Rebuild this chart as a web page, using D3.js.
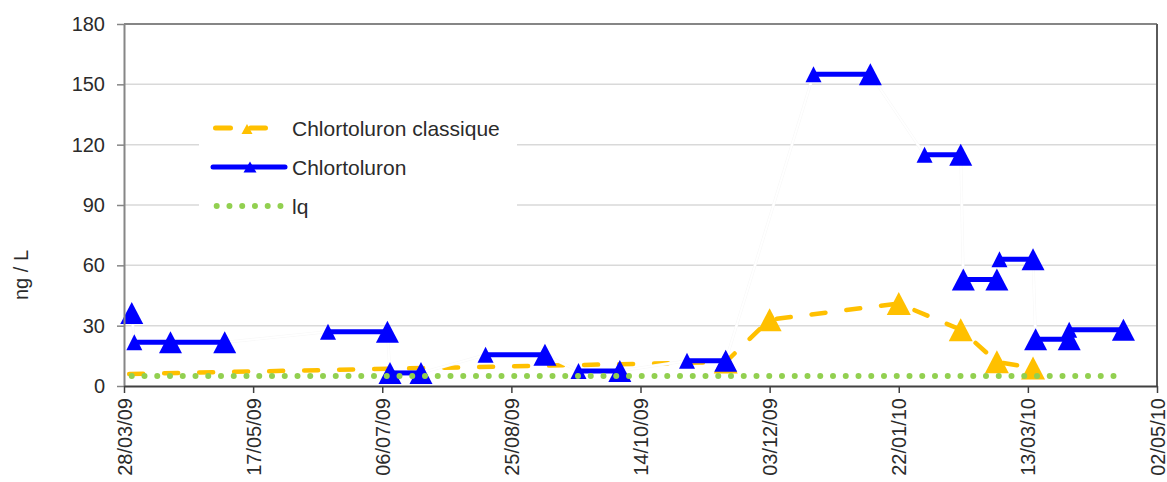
<!DOCTYPE html>
<html><head><meta charset="utf-8">
<script src="https://cdn.jsdelivr.net/npm/d3@7"></script>
<style>
html,body{margin:0;padding:0;background:#fff;}
svg{display:block;font-family:"Liberation Sans",Arial,sans-serif;}
</style></head><body>
<svg id="chart" width="1167" height="482"></svg>
<script>
// ---------- data ----------
const xTickLabels = ["28/03/09","17/05/09","06/07/09","25/08/09","14/10/09","03/12/09","22/01/10","13/03/10","02/05/10"];
const yTickValues = [0,30,60,90,120,150,180];
const seriesNames = ["Chlortoluron classique","Chlortoluron","lq"];

// Chlortoluron classique (spot samples)
const classiqueDates  = ["30/03/09","16/11/09","03/12/09","22/01/10","15/02/10","01/03/10","15/03/10"];
const classiqueValues = [6, 11.9, 33, 41, 28, 12, 9];

// Chlortoluron (integrated periods: start date, end date, value)
const periodStart  = ["01/04/09","15/04/09","15/06/09","09/07/09","15/08/09","20/09/09","01/11/09","20/12/09","01/02/10","16/02/10","02/03/10","16/03/10","29/03/10"];
const periodEnd    = ["15/04/09","06/05/09","08/07/09","21/07/09","07/09/09","06/10/09","16/11/09","11/01/10","15/02/10","01/03/10","15/03/10","29/03/10","19/04/10"];
const periodValues = [21.7, 21.7, 27, 6.5, 15.5, 7.5, 12.5, 155, 115, 53, 63, 23.3, 28];
// Chlortoluron single points
const pointDates  = ["31/03/09","09/07/09","16/02/10","16/03/10"];
const pointValues = [36.3, 6.5, 53, 23.3];

// lq (limit of quantification)
const lqDates  = ["31/03/09","19/04/10"];
const lqValues = [5, 5];

// ---------- setup ----------
const parse = d3.utcParse("%d/%m/%y");
const svg = d3.select("#chart");
svg.append("rect").attr("width",1167).attr("height",482).attr("fill","#fff");

const L = 124, R = 1157, T = 24, B = 386;
const tickDates = xTickLabels.map(parse);
const x = d3.scaleUtc().domain([tickDates[0], tickDates[tickDates.length-1]]).range([L, R]);
const y = d3.scaleLinear().domain([0,180]).range([B, T]);

const ORANGE = "#FFC000", BLUE = "#0000FF", GREEN = "#92D050", TEXT = "#2b2b2b";
const tri = (w,h) => `M0,${-h/2}L${w/2},${h/2}L${-w/2},${h/2}Z`;

// gridlines
svg.append("g").selectAll("line").data(yTickValues.filter(v => v>0 && v<180)).join("line")
  .attr("x1",L).attr("x2",R).attr("y1",d=>y(d)).attr("y2",d=>y(d))
  .attr("stroke","#d9d9d9").attr("stroke-width",1.5);

// legend background (covers gridlines)
svg.append("rect").attr("x",199).attr("y",104).attr("width",318).attr("height",124).attr("fill","#fff");

// ---------- Chlortoluron classique ----------
const cls = classiqueDates.map((d,i)=>({date:parse(d), value:classiqueValues[i]}));
const line = d3.line().x(d=>x(d.date)).y(d=>y(d.value));
svg.append("path").datum(cls).attr("d",line).attr("fill","none")
  .attr("stroke",ORANGE).attr("stroke-width",4.5).attr("stroke-linecap","round")
  .attr("stroke-dasharray","14,21");
svg.append("g").selectAll("path").data(cls.filter((d,i)=>i>0)).join("path")
  .attr("d",tri(24,23)).attr("fill",ORANGE)
  .attr("transform",d=>`translate(${x(d.date)},${y(d.value)})`);

// ---------- Chlortoluron ----------
const periods = periodStart.map((s,i)=>({start:parse(s), end:parse(periodEnd[i]), value:periodValues[i]}));
const points = pointDates.map((d,i)=>({date:parse(d), value:pointValues[i]}));
// near-invisible connector (white segments in the original)
const allPts = points.map(p=>({date:p.date,value:p.value}))
  .concat(periods.flatMap(p=>[{date:p.start,value:p.value},{date:p.end,value:p.value}]))
  .sort((a,b)=>a.date-b.date || 0);
svg.append("path").datum(allPts).attr("d",line).attr("fill","none")
  .attr("stroke","#f8f8f8").attr("stroke-width",3);
svg.append("path").datum(allPts).attr("d",line).attr("fill","none")
  .attr("stroke","#fff").attr("stroke-width",1.8);
svg.append("g").selectAll("line").data(periods).join("line")
  .attr("x1",d=>x(d.start)).attr("x2",d=>x(d.end))
  .attr("y1",d=>y(d.value)).attr("y2",d=>y(d.value))
  .attr("stroke",BLUE).attr("stroke-width",5);
svg.append("g").selectAll("path").data(periods).join("path")
  .attr("d",tri(16,16)).attr("fill",BLUE)
  .attr("transform",d=>`translate(${x(d.start)},${y(d.value)})`);
svg.append("g").selectAll("path").data(periods).join("path")
  .attr("d",tri(23,22)).attr("fill",BLUE)
  .attr("transform",d=>`translate(${x(d.end)},${y(d.value)})`);
svg.append("g").selectAll("path").data(points).join("path")
  .attr("d",tri(23,22)).attr("fill",BLUE)
  .attr("transform",d=>`translate(${x(d.date)},${y(d.value)})`);

// ---------- lq ----------
const lq = lqDates.map((d,i)=>({date:parse(d), value:lqValues[i]}));
svg.append("path").datum(lq).attr("d",line).attr("fill","none")
  .attr("stroke",GREEN).attr("stroke-width",6).attr("stroke-linecap","round")
  .attr("stroke-dasharray","0,12.75");

// ---------- frame & axes ----------
svg.append("line").attr("x1",L).attr("x2",R).attr("y1",T).attr("y2",T).attr("stroke","#868686").attr("stroke-width",2);
svg.append("line").attr("x1",R).attr("x2",R).attr("y1",T).attr("y2",B).attr("stroke","#5a5a5a").attr("stroke-width",2);

const yAxis = svg.append("g").attr("transform",`translate(${L},0)`)
  .call(d3.axisLeft(y).tickValues(yTickValues).tickSize(7).tickSizeOuter(0).tickPadding(12));
yAxis.select(".domain").attr("stroke","#868686").attr("stroke-width",2);
yAxis.selectAll(".tick line").attr("stroke","#868686").attr("stroke-width",1.5);
yAxis.selectAll("text").attr("font-size",20).attr("fill",TEXT).attr("font-family","Liberation Sans, Arial, sans-serif");

const xAxis = svg.append("g").attr("transform",`translate(0,${B})`)
  .call(d3.axisBottom(x).tickValues(tickDates).tickFormat((d,i)=>xTickLabels[i]).tickSize(7).tickSizeOuter(0));
xAxis.select(".domain").attr("stroke","#404040").attr("stroke-width",2);
xAxis.selectAll(".tick line").attr("stroke","#404040").attr("stroke-width",1.5);
xAxis.selectAll("text").attr("font-size",20).attr("fill",TEXT).attr("font-family","Liberation Sans, Arial, sans-serif")
  .attr("transform","rotate(-90)").attr("x",-12).attr("y",0).attr("dy","0.35em").style("text-anchor","end");

svg.append("text").attr("transform","translate(28,275) rotate(-90)")
  .attr("text-anchor","middle").attr("font-size",20).attr("fill",TEXT).text("ng / L");

// ---------- legend ----------
const lg = svg.append("g");
const ly = [128,167,206];
lg.append("line").attr("x1",215.5).attr("x2",265.5).attr("y1",ly[0]).attr("y2",ly[0])
  .attr("stroke",ORANGE).attr("stroke-width",5).attr("stroke-linecap","round").attr("stroke-dasharray","15,20");
lg.append("path").attr("d",tri(11,10)).attr("fill",ORANGE).attr("transform",`translate(247,${ly[0]+1})`);
lg.append("line").attr("x1",213).attr("x2",285).attr("y1",ly[1]).attr("y2",ly[1])
  .attr("stroke",BLUE).attr("stroke-width",5).attr("stroke-linecap","round");
lg.append("path").attr("d",tri(13,11)).attr("fill",BLUE).attr("transform",`translate(250,${ly[1]})`);
lg.append("line").attr("x1",216.7).attr("x2",281).attr("y1",ly[2]).attr("y2",ly[2])
  .attr("stroke",GREEN).attr("stroke-width",6).attr("stroke-linecap","round").attr("stroke-dasharray","0,12.75");
lg.selectAll("text").data(seriesNames).join("text")
  .attr("x",292).attr("y",(d,i)=>ly[i]+7.5).attr("font-size",21).attr("fill",TEXT).text(d=>d);
</script>
</body></html>
